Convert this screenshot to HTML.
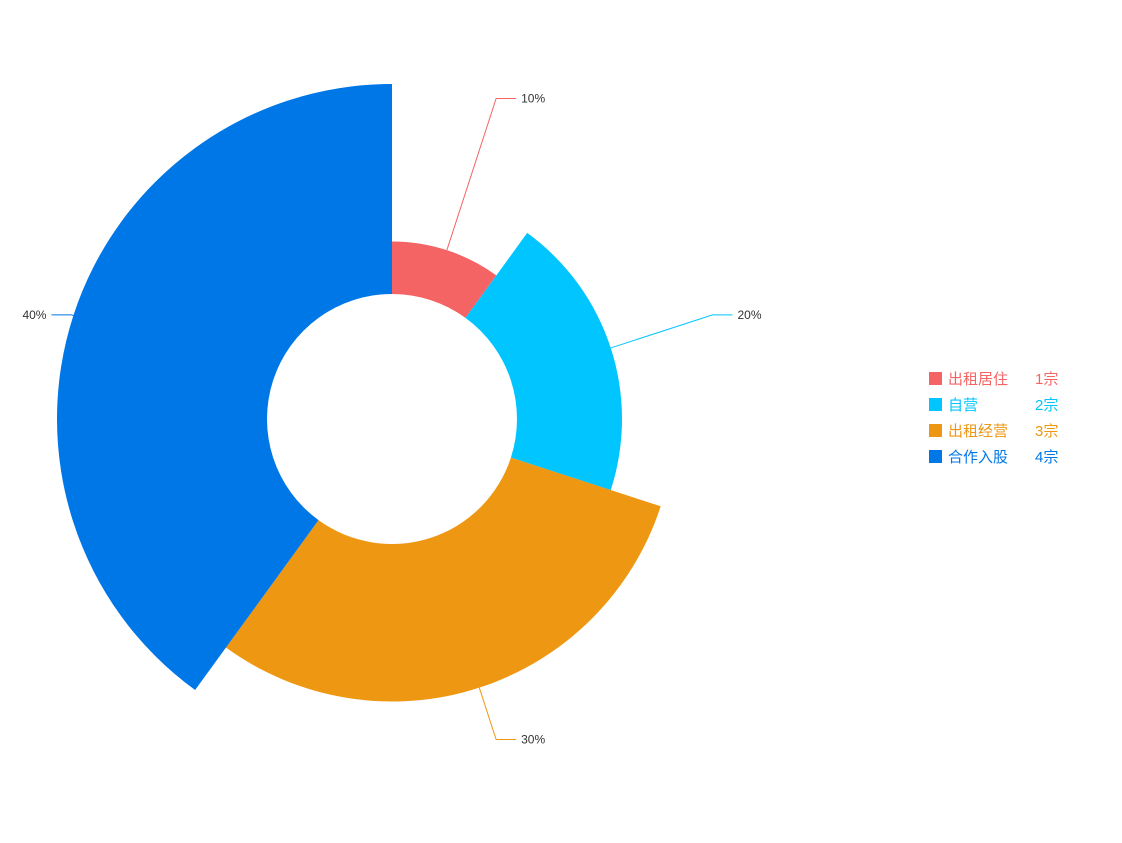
<!DOCTYPE html>
<html><head><meta charset="utf-8"><style>
body{margin:0;background:#fff;width:1122px;height:838px;overflow:hidden;font-family:"Liberation Sans","Noto Sans CJK SC",sans-serif}
</style></head><body>
<svg id="chart" width="1122" height="838" xmlns="http://www.w3.org/2000/svg"></svg>
<script>
const categories=["出租居住","自营","出租经营","合作入股"];
const values=[1,2,3,4];
const percentLabels=["10%","20%","30%","40%"];
const colors=["#f56464","#00c5ff","#ee9713","#0077e6"];
const NS="http://www.w3.org/2000/svg";
const svg=document.getElementById('chart');
const cx=392,cy=419,r0=125,rMax=335;
const total=values.reduce((a,b)=>a+b,0);
const maxV=Math.max(...values);
const rScale=v=>r0+(rMax-r0)*v/maxV;
const pt=(a,r)=>[cx+r*Math.sin(a),cy-r*Math.cos(a)];
function mk(tag,attrs){const e=document.createElementNS(NS,tag);for(const k in attrs)e.setAttribute(k,attrs[k]);svg.appendChild(e);return e;}
let ang=0;
values.forEach((v,i)=>{
  const a0=ang,a1=ang+2*Math.PI*v/total;ang=a1;
  const r=rScale(v);
  const [x0,y0]=pt(a0,r),[x1,y1]=pt(a1,r),[x2,y2]=pt(a1,r0),[x3,y3]=pt(a0,r0);
  const large=(a1-a0)>Math.PI?1:0;
  const p=mk('path',{d:`M${x0},${y0}A${r},${r} 0 ${large} 1 ${x1},${y1}L${x2},${y2}A${r0},${r0} 0 ${large} 0 ${x3},${y3}Z`,fill:colors[i]});
  
  
  const am=(a0+a1)/2;
  const [sx,sy]=pt(am,r);
  const [ex,ey]=pt(am,rMax+2);
  const right=Math.sin(am)>=0;
  const hx=right?ex+20:ex-20;
  const l=mk('polyline',{points:`${sx},${sy} ${ex},${ey} ${hx},${ey}`,fill:'none',stroke:colors[i],'stroke-width':1});
  
  
  const t=mk('text',{x:right?hx+5:hx-5,y:ey+4,'font-size':12,fill:'#333','text-anchor':right?'start':'end'});
  t.textContent=percentLabels[i];
  
  
});
categories.forEach((c,i)=>{
  const y=379+i*26;
  const s=mk('rect',{x:929,y:y-7,width:13,height:13,fill:colors[i]});
  
  
  const t=mk('text',{x:948,y:y+5,'font-size':15,fill:colors[i]});
  t.textContent=c;
  
  
  const v=mk('text',{x:1035,y:y+5,'font-size':15,fill:colors[i]});
  v.textContent=values[i]+'宗';
  
  
});
</script>
</body></html>
